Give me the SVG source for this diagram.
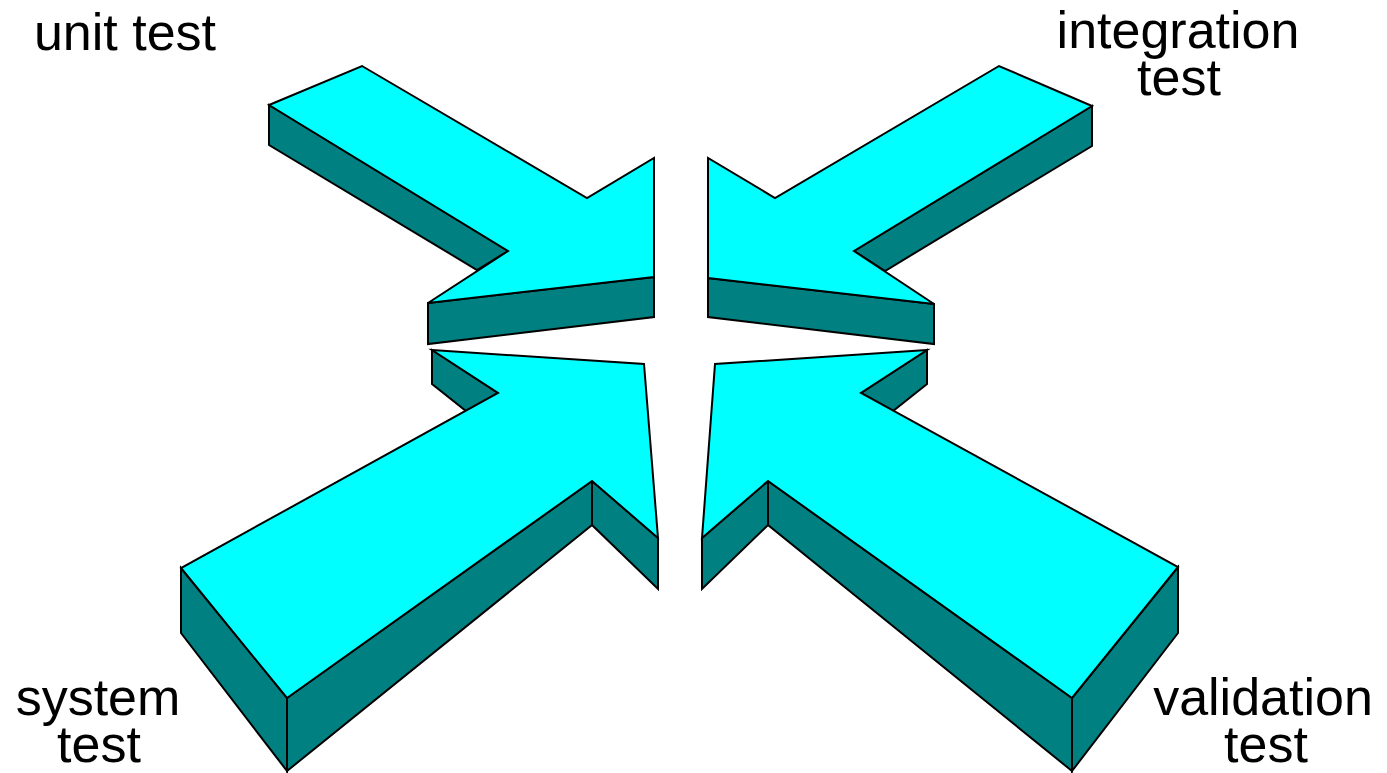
<svg xmlns="http://www.w3.org/2000/svg" width="1387" height="773" viewBox="0 0 1387 773">
<style>
.top{fill:#00FFFF;stroke:#000;stroke-width:2;stroke-linejoin:miter}
.side{fill:#008080;stroke:#000;stroke-width:2;stroke-linejoin:miter}
.lbl{font-family:"Liberation Sans",Arial,sans-serif;font-size:52px;fill:#000;text-anchor:middle}
</style>
<rect width="1387" height="773" fill="#fff"/>
<g id="unit-test-arrow">
<polygon class="side" points="269,105 508,251 477,270 269,145"/>
<polygon class="side" points="428,303 654,277 654,317 428,344"/>
<polygon class="top" points="269,105 362,66 587,198 654,158 654,277 428,303 508,251"/>
</g>
<g id="integration-test-arrow">
<polygon class="side" points="1092,106 854,251 885,271 1092,146"/>
<polygon class="side" points="708,278 934,304 934,344 708,317"/>
<polygon class="top" points="1092,106 999,66 775,198 708,158 708,278 934,304 854,251"/>
</g>
<g id="system-test-arrow">
<polygon class="side" points="432,350 498,393 466,411 432,384"/>
<polygon class="side" points="181,568 287,698 287,771 181,633"/>
<polygon class="side" points="287,698 592,481 592,525 287,771"/>
<polygon class="side" points="592,481 658,538 658,589 592,525"/>
<polygon class="top" points="432,350 644,364 658,538 592,481 287,698 181,568 498,393"/>
</g>
<g id="validation-test-arrow">
<polygon class="side" points="927,350 861,393 893,411 927,384"/>
<polygon class="side" points="702,538 768,481 768,525 702,589"/>
<polygon class="side" points="768,481 1072,698 1072,771 768,525"/>
<polygon class="side" points="1072,698 1178,567 1178,633 1072,771"/>
<polygon class="top" points="927,350 715,364 702,538 768,481 1072,698 1178,567 861,393"/>
</g>
<g id="labels">
<text class="lbl" x="125" y="50">unit test</text>
<text class="lbl" x="1178" y="48">integration</text>
<text class="lbl" x="1179" y="95">test</text>
<text class="lbl" x="98" y="715">system</text>
<text class="lbl" x="99" y="762">test</text>
<text class="lbl" x="1263" y="715">validation</text>
<text class="lbl" x="1266" y="762">test</text>
</g>
<g id="connectors"/>
</svg>
